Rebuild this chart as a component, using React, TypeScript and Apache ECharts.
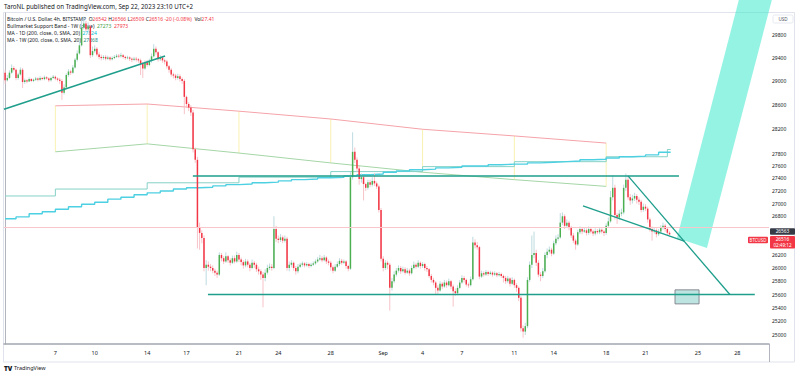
import React, { useEffect, useRef } from 'react';
import * as echarts from 'echarts';

const FONT = '"Noto Sans", "DejaVu Sans", sans-serif';
const L = (p: number) => Math.log(p);

// ---- time axis ----
const START_UTC = Date.UTC(2023, 7, 3, 4); // first 4h bar: Aug 3 04:00
const BAR_MS = 4 * 3600 * 1000;
const SLOTS = 350;
const tickDates = ['2023-08-07', '2023-08-10', '2023-08-14', '2023-08-17', '2023-08-21', '2023-08-24', '2023-08-28', '2023-09-01', '2023-09-04', '2023-09-07', '2023-09-11', '2023-09-14', '2023-09-18', '2023-09-21', '2023-09-25', '2023-09-28'];
const tickLabels = ['7', '10', '14', '17', '21', '24', '28', 'Sep', '4', '7', '11', '14', '18', '21', '25', '28'];

// ---- price axis (log scale) ----
const priceTicks = [29800, 29400, 29000, 28600, 28200, 27800, 27600, 27400, 27200, 27000, 26800, 26200, 26000, 25800, 25600, 25400, 25200, 25000];
const priceMin = 24869;
const priceMax = 30186;

// ---- BTCUSD 4h candles ----
const firstOpen = 29150;
const closes = [
  29020, 29060, 29150, 29230, 29200, 29060, 29120, 29200, 28990, 29020,
  29000, 29040, 29010, 29030, 29050, 29030, 29060, 29040, 29070, 29050,
  29020, 29060, 29080, 29050, 29030, 29010, 28810, 28900, 29110, 29170,
  29150, 29240, 29370, 29480, 29620, 29930, 30000, 29900, 29950, 29450,
  29520, 29560, 29460, 29420, 29400, 29420, 29390, 29410, 29380, 29400,
  29420, 29440, 29430, 29450, 29420, 29400, 29410, 29390, 29370, 29390,
  29380, 29360, 29300, 29220, 29330, 29280, 29350, 29430, 29560, 29500,
  29380, 29410, 29360, 29340, 29260, 29200, 29120, 29100, 29060, 29090,
  29040, 29010, 28740, 28620, 28560, 28480, 27870, 27700, 26620, 26540,
  26460, 26000, 26050, 26020, 26000, 25960, 25930, 25900, 26200, 26150,
  26100, 26180, 26120, 26080, 26150, 26100, 26200, 26130, 26090, 26040,
  26100, 26050, 26000, 26080, 26050, 25980, 25950, 25900, 25850, 25930,
  26000, 26020, 26000, 26600, 26450, 26430, 26470, 26420, 26450, 26000,
  26050, 26080, 26000, 25950, 26020, 26050, 26070, 26040, 26060, 26030,
  26050, 26070, 26100, 26130, 26150, 26120, 26160, 26100, 26080, 26010,
  25960, 26020, 26060, 26110, 26080, 26100, 26030, 25990, 27420, 27830,
  27700, 27560, 27390, 27420, 27310, 27250, 27340, 27300, 27360, 27320,
  27270, 26900, 26140, 26000, 26080, 26050, 25700, 25800, 25900, 25960,
  26000, 25950, 25980, 25930, 25960, 25920, 26000, 26050, 26020, 26080,
  26030, 26060, 26000, 25980, 25880, 25820, 25780, 25700, 25660, 25760,
  25720, 25780, 25740, 25800, 25720, 25650, 25620, 25700, 25780, 25850,
  25820, 25750, 25740, 25830, 26390, 26350, 26320, 25870, 25920, 25900,
  25940, 25910, 25930, 25900, 25920, 25890, 25910, 25880, 25850, 25800,
  25840, 25760, 25820, 25740, 25700, 25550, 25100, 25050, 25130, 25820,
  26050, 26200, 26230, 26080, 25900, 25880, 25950, 26200, 26250, 26280,
  26220, 26380, 26450, 26470, 26700, 26800, 26650, 26700, 26620, 26500,
  26420, 26360, 26550, 26600, 26560, 26580, 26540, 26600, 26560, 26530,
  26570, 26550, 26590, 26560, 26540, 26650, 26720, 27100, 27250, 26820,
  26780, 26840, 26860, 27250, 27380, 27100, 27050, 27080, 27120, 27060,
  27030, 26900, 26950, 26920, 26750, 26600, 26560, 26580, 26520, 26560,
  26620, 26650, 26600, 26542, 26516,
];
const highs = [
  29200, 29110, 29190, 29290, 29260, 29220, 29150, 29240, 29230, 29050,
  29040, 29070, 29060, 29050, 29080, 29070, 29090, 29080, 29100, 29090,
  29070, 29080, 29110, 29100, 29070, 29060, 29040, 28950, 29140, 29210,
  29200, 29280, 29400, 29530, 29700, 30060, 30120, 30050, 30020, 29980,
  29600, 29620, 29590, 29500, 29460, 29450, 29450, 29440, 29430, 29430,
  29450, 29470, 29470, 29490, 29470, 29440, 29440, 29430, 29410, 29420,
  29420, 29400, 29390, 29330, 29360, 29370, 29390, 29480, 29640, 29600,
  29520, 29450, 29440, 29390, 29370, 29280, 29230, 29150, 29130, 29130,
  29120, 29070, 29040, 28760, 28650, 28600, 28520, 27900, 27750, 26700,
  26580, 26500, 26120, 26100, 26060, 26040, 25990, 25960, 26240, 26230,
  26180, 26240, 26200, 26150, 26190, 26190, 26250, 26230, 26160, 26120,
  26140, 26130, 26080, 26130, 26110, 26080, 26020, 25980, 25940, 25980,
  26050, 26070, 26060, 26800, 26650, 26500, 26520, 26500, 26500, 26480,
  26100, 26120, 26100, 26030, 26060, 26080, 26100, 26090, 26090, 26080,
  26080, 26100, 26130, 26170, 26200, 26180, 26200, 26180, 26130, 26110,
  26040, 26060, 26100, 26150, 26140, 26130, 26120, 26050, 27500, 28150,
  27900, 27740, 27600, 27480, 27450, 27330, 27380, 27380, 27420, 27480,
  27350, 27300, 26930, 26180, 26120, 26110, 26080, 25850, 25950, 26000,
  26040, 26030, 26020, 26010, 26000, 25990, 26040, 26100, 26080, 26120,
  26100, 26090, 26080, 26030, 26000, 25910, 25850, 25800, 25740, 25800,
  25790, 25820, 25810, 25840, 25820, 25750, 25690, 25740, 25820, 25890,
  25880, 25840, 25780, 25870, 26480, 26440, 26400, 26340, 25960, 25950,
  25970, 25960, 25960, 25950, 25950, 25940, 25940, 25930, 25900, 25880,
  25880, 25860, 25860, 25840, 25770, 25720, 25580, 25140, 25180, 25860,
  26100, 26500, 26560, 26280, 26120, 25940, 26000, 26240, 26300, 26330,
  26310, 26420, 26500, 26520, 26850, 26860, 26830, 26750, 26730, 26650,
  26540, 26450, 26590, 26640, 26630, 26620, 26610, 26640, 26630, 26590,
  26610, 26600, 26620, 26610, 26590, 26690, 26780, 27200, 27450, 27300,
  26850, 26900, 26920, 27300, 27480, 27420, 27150, 27140, 27170, 27150,
  27100, 27060, 27000, 26990, 26950, 26780, 26640, 26620, 26610, 26600,
  26660, 26700, 26680, 26630, 26566,
];
const lows = [
  28960, 29000, 29040, 29130, 29170, 29020, 29030, 29100, 28890, 28960,
  28970, 28990, 28990, 28990, 29010, 29000, 29010, 29020, 29020, 29030,
  28990, 29000, 29040, 29020, 29000, 28960, 28690, 28780, 28880, 29080,
  29110, 29130, 29220, 29340, 29460, 29600, 29900, 29860, 29870, 29400,
  29420, 29490, 29430, 29380, 29360, 29370, 29360, 29370, 29350, 29360,
  29380, 29400, 29400, 29410, 29390, 29370, 29380, 29350, 29330, 29350,
  29340, 29320, 29110, 29060, 29200, 29250, 29260, 29320, 29410, 29460,
  29340, 29350, 29320, 29290, 29220, 29150, 29080, 29050, 29020, 29030,
  29000, 28960, 28450, 28560, 28500, 28420, 27820, 27650, 26300, 26280,
  26380, 25950, 25740, 25960, 25950, 25920, 25880, 25850, 25880, 26100,
  26060, 26080, 26080, 26040, 26060, 26070, 26080, 26090, 26040, 25990,
  26010, 26010, 25950, 25980, 26000, 25940, 25900, 25820, 25410, 25800,
  25900, 25970, 25960, 25980, 26400, 26380, 26400, 26380, 26390, 25960,
  25950, 26010, 25960, 25900, 25920, 26000, 26020, 26010, 26020, 26000,
  26010, 26030, 26050, 26080, 26110, 26090, 26100, 26060, 26040, 25960,
  25920, 25940, 26000, 26030, 26050, 26060, 25990, 25950, 25970, 27380,
  27650, 27500, 27300, 27330, 27050, 27200, 27220, 27260, 27270, 27280,
  27230, 26860, 26100, 25950, 25970, 25980, 25360, 25660, 25770, 25870,
  25930, 25910, 25930, 25900, 25910, 25880, 25900, 25980, 25990, 26000,
  25990, 26000, 25960, 25940, 25850, 25780, 25740, 25600, 25610, 25640,
  25680, 25700, 25700, 25720, 25680, 25420, 25580, 25590, 25680, 25760,
  25780, 25720, 25700, 25720, 25810, 26300, 26280, 25830, 25850, 25870,
  25880, 25880, 25890, 25870, 25880, 25860, 25870, 25850, 25780, 25760,
  25770, 25720, 25740, 25700, 25640, 25500, 25050, 24960, 25000, 25100,
  25790, 26000, 26150, 26030, 25860, 25800, 25850, 25930, 26150, 26220,
  26180, 26200, 26350, 26420, 26450, 26660, 26600, 26620, 26580, 26460,
  26380, 26280, 26340, 26520, 26520, 26540, 26500, 26510, 26530, 26490,
  26500, 26520, 26520, 26530, 26490, 26510, 26620, 26700, 27050, 26750,
  26680, 26740, 26800, 26830, 27200, 27060, 26980, 27000, 27040, 27000,
  26980, 26860, 26870, 26880, 26700, 26560, 26420, 26530, 26470, 26490,
  26530, 26590, 26560, 26510, 26509,
];
const headerOHLC = ['26542', '26566', '26509', '26516'];
const headerChange = '-20 (-0.08%)';
const headerVol = '27.41';
const countdown = '02:49:12';
const markerPrice = 26563;

// ---- indicators ----
const ma1dDaily = [
  26760, 26790, 26840, 26870, 26910, 26950, 26990, 27020, 27070, 27100,
  27140, 27170, 27200, 27230, 27250, 27260, 27280, 27300, 27310, 27330,
  27340, 27360, 27380, 27390, 27410, 27420, 27440, 27460, 27470, 27500,
  27520, 27540, 27550, 27570, 27580, 27600, 27600, 27620, 27630, 27630,
  27650, 27660, 27670, 27680, 27700, 27710, 27730, 27750, 27760, 27780, 27824,
];
const weekStarts = ['2023-08-07', '2023-08-14', '2023-08-21', '2023-08-28', '2023-09-04', '2023-09-11', '2023-09-18'];
const ma1wWeekly = [27120, 27230, 27330, 27420, 27510, 27590, 27670, 27750];
const ma1wCurrent = 27868;
const bandRed = [28590, 28620, 28500, 28370, 28200, 28090, 27973];
const bandGreen = [27830, 27960, 27810, 27650, 27500, 27380, 27273];

// ---- drawings [bar index, price] ----
const riseLine = [[-0.5, 28531], [73.2, 29436]];
const resistLine = [[85.9, 27440], [308.3, 27440]];
const supportLine = [[92.8, 25600], [343, 25600]];
const wedgeUpper = [[285.0, 27440], [331.6, 25600]];
const wedgeLower = [[264.4, 26965], [311.0, 26408]];
const projectionZone = [[307.4, 26461], [321.1, 26306], [350.8, 30417], [335.7, 30417]];
const targetBoxBars = [306.5, 317.5];
const targetBoxPrices = [25460, 25670];

const UP = '#4caf50';
const DOWN = '#f23645';
const UP_WICK = '#b6d7dc';
const DOWN_WICK = '#f6bcc3';
const DRAW = '#1e9e8b';

const barIndex = (d: string) => Math.round((Date.parse(d + 'T00:00:00Z') - START_UTC) / BAR_MS);

function buildOption() {
  const slotLabels: string[] = [];
  for (let k = 0; k < SLOTS; k++) slotLabels.push('');
  tickDates.forEach((d, j) => { slotLabels[barIndex(d)] = tickLabels[j]; });

  const candleRows = closes.map((c, i) => {
    const o = i === 0 ? firstOpen : closes[i - 1];
    return [i, L(o), L(c), L(lows[i]), L(highs[i])];
  });
  const last = closes.length - 1;
  const lastClose = closes[last];

  const dailyPts: number[][] = ma1dDaily.map((v, d) => [d === 0 ? 0 : 5 + 6 * (d - 1), L(v)]);
  dailyPts.push([last + 0.5, L(ma1dDaily[ma1dDaily.length - 1])]);
  const wIdx = [0, ...weekStarts.map(barIndex)];
  const weeklyPts: number[][] = ma1wWeekly.map((v, k) => [wIdx[k], L(v)]);
  weeklyPts.push([last - 1, L(ma1wCurrent)]);
  weeklyPts.push([last + 0.5, L(ma1wCurrent)]);
  const bandIdx = weekStarts.map(barIndex);

  const toLog = (pts: number[][]) => pts.map(([x, p]) => [x, L(p)]);
  const drawLine = (pts: number[][], w = 1.4) => ({
    type: 'line', xAxisIndex: 1, yAxisIndex: 0, data: toLog(pts), showSymbol: false, symbol: 'none',
    lineStyle: { color: DRAW, width: w }, z: 6, silent: true,
  });

  const txt = (x: number, y: number, text: string, size: number, extra: any = {}) => ({
    type: 'text', z: 0, silent: true,
    style: { x, y, text, fontSize: size, fontFamily: FONT, fill: '#131722', verticalAlign: 'middle', ...extra },
  });
  const rich = {
    d: { fontSize: 5, fontFamily: FONT, fill: '#131722', color: '#131722' },
    r: { fontSize: 5, fontFamily: FONT, fill: DOWN, color: DOWN },
    g: { fontSize: 5, fontFamily: FONT, fill: '#43a047', color: '#43a047' },
    c: { fontSize: 5, fontFamily: FONT, fill: '#00bcd4', color: '#00bcd4' },
    t: { fontSize: 5, fontFamily: FONT, fill: '#1b8a7e', color: '#1b8a7e' },
  };

  return {
    animation: false,
    backgroundColor: '#ffffff',
    grid: { left: 4, right: 31, top: 13, bottom: 31 },
    xAxis: [
      {
        type: 'category', data: slotLabels, boundaryGap: true,
        axisTick: { show: false },
        axisLine: { show: true, lineStyle: { color: '#a3a6af', width: 1.5 } },
        splitLine: { show: false },
        axisLabel: { interval: (_: number, v: string) => v !== '', fontSize: 5.5, color: '#131722', margin: 6, fontFamily: FONT },
      },
      { type: 'value', min: -0.5, max: SLOTS - 0.5, show: false },
    ],
    yAxis: {
      type: 'value', position: 'right', min: L(priceMin), max: L(priceMax),
      splitLine: { show: false }, axisTick: { show: false },
      axisLine: { show: true, lineStyle: { color: '#b2b5be', width: 1 } },
      axisLabel: {
        customValues: priceTicks.map(L),
        formatter: (v: number) => String(Math.round(Math.exp(v))),
        fontSize: 5, color: '#131722', margin: 3, fontFamily: FONT,
      },
    },
    graphic: {
      elements: [
        { type: 'rect', z: 0, silent: true, shape: { x: 3.5, y: 12.5, width: 791, height: 349.5 }, style: { fill: 'none', stroke: '#e0e3eb', lineWidth: 1 } },
        { type: 'line', z: 0, silent: true, shape: { x1: 769.5, y1: 344, x2: 769.5, y2: 362 }, style: { stroke: '#b2b5be', lineWidth: 1 } },
        { type: 'rect', z: 0, silent: true, shape: { x: 773, y: 15, width: 20, height: 8, r: 1.5 }, style: { fill: '#fff', stroke: '#e0e3eb', lineWidth: 0.8 } },
        txt(783, 19, 'USD', 4.6, { align: 'center', fill: '#50535e' }),
        txt(4, 6, 'TaroNL published on TradingView.com, Sep 22, 2023 23:10 UTC+2', 6.2),
        txt(7, 18.5, `{d|Bitcoin / U.S. Dollar, 4h, BITSTAMP  O}{r|${headerOHLC[0]}} {d|H}{r|${headerOHLC[1]}} {d|L}{r|${headerOHLC[2]}} {d|C}{r|${headerOHLC[3]}} {r|${headerChange}}  {d|Vol}{r|${headerVol}}`, 5, { rich }),
        txt(7, 25.5, `{d|Bullmarket Support Band - 1W (close)}  {g|${bandGreen[bandGreen.length - 1]}}  {r|${bandRed[bandRed.length - 1]}}`, 5, { rich }),
        txt(7, 32.7, `{d|MA - 1D (200, close, 0, SMA, 20)}  {c|${ma1dDaily[ma1dDaily.length - 1]}}`, 5, { rich }),
        txt(7, 40, `{d|MA - 1W (200, close, 0, SMA, 20)}  {t|${ma1wCurrent}}`, 5, { rich }),
        txt(4, 368, 'TV', 6.5, { fontWeight: 900 }),
        txt(14, 368, 'TradingView', 5.5),
      ],
    },
    series: [
      // Bullmarket support band
      { type: 'line', xAxisIndex: 1, data: bandIdx.map((x, k) => [x, L(bandRed[k])]), showSymbol: false, symbol: 'none', lineStyle: { color: '#f5a3a9', width: 1 }, z: 2, silent: true },
      { type: 'line', xAxisIndex: 1, data: bandIdx.map((x, k) => [x, L(bandGreen[k])]), showSymbol: false, symbol: 'none', lineStyle: { color: '#a5d6a7', width: 1 }, z: 2, silent: true },
      {
        type: 'custom', xAxisIndex: 1, yAxisIndex: 0, z: 2, silent: true,
        data: bandIdx.map((x, k) => [x, L(bandRed[k]), L(bandGreen[k])]),
        encode: { x: 0, y: [1, 2] },
        renderItem: (_p: any, api: any) => {
          const a = api.coord([api.value(0), api.value(1)]);
          const b = api.coord([api.value(0), api.value(2)]);
          return { type: 'line', shape: { x1: a[0], y1: a[1], x2: b[0], y2: b[1] }, style: { stroke: '#f6ee9e', lineWidth: 0.8 } };
        },
      },
      // moving averages
      { type: 'line', xAxisIndex: 1, data: weeklyPts, step: 'end', showSymbol: false, symbol: 'none', lineStyle: { color: '#86d1c6', width: 1 }, z: 2, silent: true },
      { type: 'line', xAxisIndex: 1, data: dailyPts, step: 'end', showSymbol: false, symbol: 'none', lineStyle: { color: '#4dd0e1', width: 1.4 }, z: 2, silent: true },
      // candles
      {
        type: 'custom', xAxisIndex: 1, yAxisIndex: 0, z: 3, silent: true,
        data: candleRows,
        encode: { x: 0, y: [1, 2, 3, 4] },
        renderItem: (_p: any, api: any) => {
          const i = api.value(0), o = api.value(1), c = api.value(2), lo = api.value(3), hi = api.value(4);
          const up = c >= o;
          const pO = api.coord([i, o]), pC = api.coord([i, c]);
          const pL = api.coord([i, lo]), pH = api.coord([i, hi]);
          const x = pO[0];
          const w = api.size([1, 0])[0] * 0.68;
          const top = Math.min(pO[1], pC[1]);
          const h = Math.max(Math.abs(pO[1] - pC[1]), 0.8);
          return {
            type: 'group',
            children: [
              { type: 'line', shape: { x1: x, y1: pH[1], x2: x, y2: pL[1] }, style: { stroke: up ? UP_WICK : DOWN_WICK, lineWidth: 0.9 } },
              { type: 'rect', shape: { x: x - w / 2, y: top, width: w, height: h }, style: { fill: up ? UP : DOWN } },
            ],
          };
        },
      },
      // projection zone and target box
      {
        type: 'custom', xAxisIndex: 1, yAxisIndex: 0, z: 4, silent: true, clip: false,
        data: [[0]],
        renderItem: (_p: any, api: any) => {
          const pts = projectionZone.map(([x, p]) => api.coord([x, L(p)]));
          const b0 = api.coord([targetBoxBars[0], L(targetBoxPrices[1])]);
          const b1 = api.coord([targetBoxBars[1], L(targetBoxPrices[0])]);
          return {
            type: 'group',
            children: [
              { type: 'polygon', shape: { points: pts }, style: { fill: 'rgba(52, 232, 204, 0.52)' } },
              { type: 'rect', shape: { x: b0[0], y: b0[1], width: b1[0] - b0[0], height: b1[1] - b0[1] }, style: { fill: 'rgba(38, 166, 154, 0.3)', stroke: '#7d8088', lineWidth: 0.9 } },
            ],
          };
        },
      },
      drawLine(riseLine, 1.5),
      drawLine(resistLine, 1.4),
      drawLine(supportLine, 1.4),
      drawLine(wedgeUpper, 1.3),
      drawLine(wedgeLower, 1.3),
      // last-price line
      {
        type: 'line', xAxisIndex: 1, yAxisIndex: 0, data: [[last, L(lastClose)]], showSymbol: false, symbol: 'none',
        lineStyle: { opacity: 0 }, z: 1, silent: true,
        markLine: {
          silent: true, symbol: ['none', 'none'], animation: false,
          label: { show: false },
          data: [{ yAxis: L(lastClose), lineStyle: { color: '#f8c6cb', width: 1, type: 'solid' } }],
        },
      },
      // price-scale labels (placed from the y scale)
      {
        type: 'custom', xAxisIndex: 1, yAxisIndex: 0, z: 8, silent: true, clip: false,
        data: [[last, L(lastClose), L(markerPrice)]],
        encode: { x: 0, y: [1, 2] },
        renderItem: (params: any, api: any) => {
          const cs = params.coordSys;
          const right = cs.x + cs.width;
          const yLast = api.coord([api.value(0), api.value(1)])[1];
          const yMark = api.coord([api.value(0), api.value(2)])[1];
          const ts = (x: number, y: number, text: string, size: number, align = 'center') => ({
            type: 'text', style: { x, y, text, fill: '#fff', fontSize: size, fontFamily: FONT, align, verticalAlign: 'middle' },
          });
          return {
            type: 'group',
            children: [
              { type: 'rect', shape: { x: right + 1, y: yMark - 3.2, width: 25, height: 6.4, r: 1 }, style: { fill: '#363a45' } },
              ts(right + 13.5, yMark, String(markerPrice), 4.8),
              { type: 'rect', shape: { x: right + 1, y: yLast + 1.5, width: 25, height: 12.5, r: 1 }, style: { fill: DOWN } },
              ts(right + 13.5, yLast + 4.7, String(lastClose), 4.8),
              ts(right + 13.5, yLast + 10.5, countdown, 4.6),
              { type: 'rect', shape: { x: right - 21, y: yLast + 2.3, width: 20, height: 6.4, r: 1 }, style: { fill: DOWN } },
              ts(right - 11, yLast + 5.5, 'BTCUSD', 4.4),
            ],
          };
        },
      },
    ],
  };
}

export default function App() {
  const ref = useRef<HTMLDivElement>(null);
  useEffect(() => {
    document.body.style.margin = '0';
    const chart = echarts.init(ref.current as HTMLDivElement, undefined, { renderer: 'svg' });
    chart.setOption(buildOption() as any);
    return () => chart.dispose();
  }, []);
  return <div ref={ref} style={{ width: 800, height: 375 }} />;
}
